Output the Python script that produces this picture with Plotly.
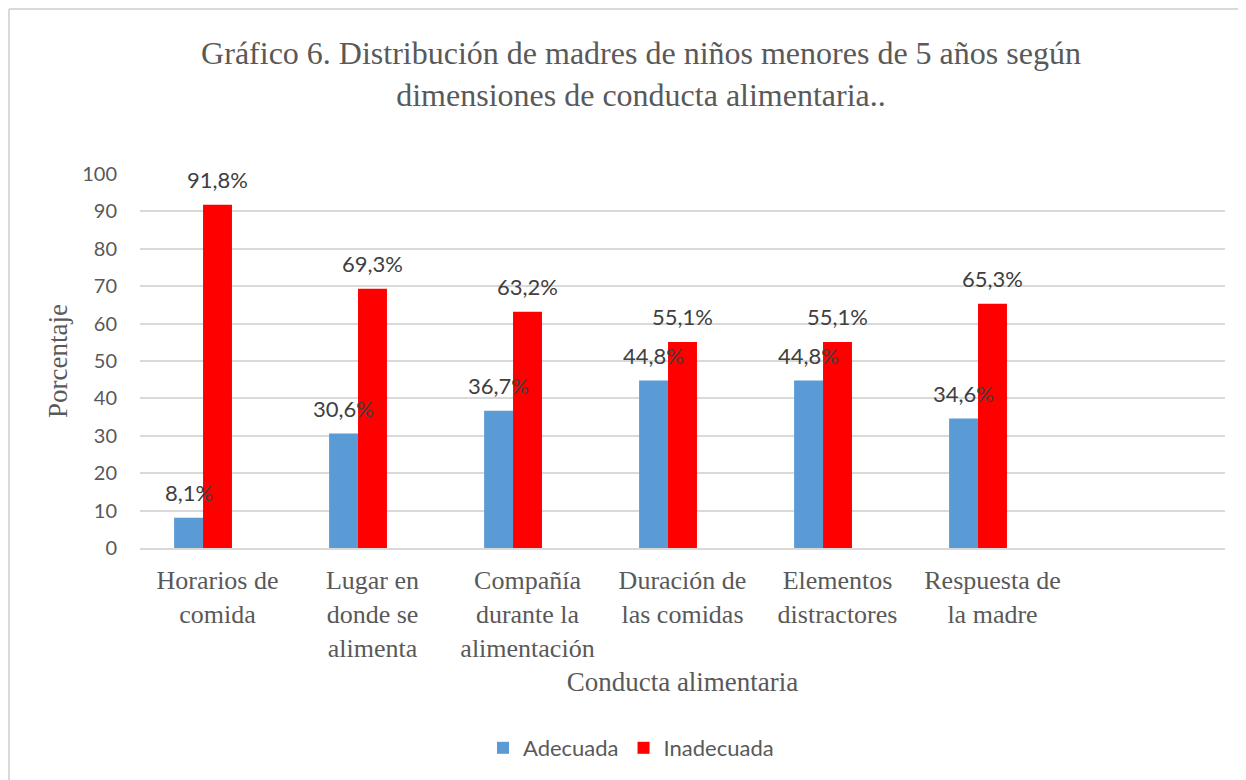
import plotly.graph_objects as go

categories = ["Horarios de<br>comida", "Lugar en<br>donde se<br>alimenta", "Compañía<br>durante la<br>alimentación",
              "Duración de<br>las comidas", "Elementos<br>distractores", "Respuesta de<br>la madre", ""]
cat_keys = ["c1", "c2", "c3", "c4", "c5", "c6", "c7"]
adecuada = [8.1, 30.6, 36.7, 44.8, 44.8, 34.6, None]
inadecuada = [91.8, 69.3, 63.2, 55.1, 55.1, 65.3, None]
y_ticks = [0, 10, 20, 30, 40, 50, 60, 70, 80, 90, 100]

BLUE = "#5B9BD5"
RED = "#FF0000"
SANS = "Lato, 'Open Sans', sans-serif"
SERIF = "'Liberation Serif', 'Times New Roman', serif"

# page is offset by 8px body margin; layout numbers are in figure pixels
W, H = 1246, 780
L, T = 132, 166
PW, PH = 1085, 374
R = W - L - PW
B = H - T - PH

fig = go.Figure()
fig.add_trace(go.Bar(x=cat_keys, y=adecuada, name="Adecuada", marker=dict(color=BLUE, line=dict(width=0))))
fig.add_trace(go.Bar(x=cat_keys, y=inadecuada, name="Inadecuada", marker=dict(color=RED, line=dict(width=0))))
fig.add_trace(go.Bar(x=cat_keys, y=[None] * 7, name="", showlegend=False, hoverinfo="skip"))

def fmt(v):
    return f"{v:.1f}".replace(".", ",") + "%"

lab_font = dict(family=SANS, size=22, color="#404040")
annotations = []
for k, v in zip(cat_keys, adecuada):
    if v is not None:
        annotations.append(dict(x=k, y=v, xref="x", yref="y", text=fmt(v), showarrow=False,
                                xshift=-29, yshift=25, font=lab_font))
for k, v in zip(cat_keys, inadecuada):
    if v is not None:
        annotations.append(dict(x=k, y=v, xref="x", yref="y", text=fmt(v), showarrow=False,
                                xshift=0, yshift=25, font=lab_font))

fig.update_layout(
    width=W, height=H,
    margin=dict(l=L, r=R, t=T, b=B, pad=0),
    paper_bgcolor="white", plot_bgcolor="white",
    barmode="group", bargap=0.44, bargroupgap=0,
    title=dict(text="Gráfico 6. Distribución de madres de niños menores de 5 años según<br>dimensiones de conducta alimentaria..",
               x=633 / W, xref="container", xanchor="center", y=1 - 56 / H, yanchor="middle",
               font=dict(family=SERIF, size=32, color="#595959")),
    xaxis=dict(tickmode="array", tickvals=cat_keys, ticktext=categories,
               tickfont=dict(family=SERIF, size=26, color="#595959"), showgrid=False,
               showline=True, linecolor="#d9d9d9", linewidth=1.5, ticks="", ticklabelstandoff=8,
               title=dict(text="Conducta alimentaria", font=dict(family=SERIF, size=27, color="#595959"), standoff=11)),
    yaxis=dict(range=[0, 100], tickvals=y_ticks, showgrid=True, gridcolor="#d9d9d9", gridwidth=1.5,
               zeroline=False, tickfont=dict(family=SANS, size=20, color="#595959"), ticks="",
               ticklabelstandoff=22,
               title=dict(text="Porcentaje", font=dict(family=SERIF, size=27, color="#595959"), standoff=6)),
    legend=dict(orientation="h", x=(623 - L) / PW, xanchor="center", y=(PH - (740 - T)) / PH, yanchor="middle",
                font=dict(family=SANS, size=22, color="#595959"), itemwidth=30, traceorder="normal"),
    annotations=annotations,
    shapes=[
        dict(type="line", xref="paper", yref="paper",
             x0=(1 - L) / PW, x1=(1 - L) / PW, y0=(PH - (H - T)) / PH, y1=(PH + T - 1) / PH,
             line=dict(color="#d9d9d9", width=2), layer="below"),
        dict(type="line", xref="paper", yref="paper",
             x0=(1 - L) / PW, x1=(W - L) / PW, y0=(PH + T - 1) / PH, y1=(PH + T - 1) / PH,
             line=dict(color="#d9d9d9", width=2), layer="below"),
    ],
)

fig.write_html("out.html")
